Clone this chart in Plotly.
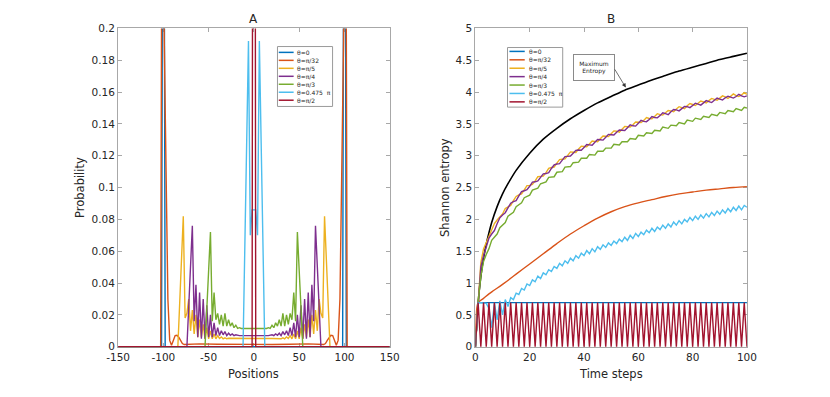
import plotly.graph_objects as go

FONT = 'DejaVu Sans'
TXT = '#262626'
AXC = '#a8a8a8'
W, H = 830, 397

labels = ['θ=0', 'θ=π/32', 'θ=π/5', 'θ=π/4', 'θ=π/3', 'θ=0.475  π', 'θ=π/2']
colors = ['#0072BD', '#D95319', '#EDB120', '#7E2F8E', '#77AC30', '#4DBEEE', '#A2142F']

# ---- panel A: probability over positions after 100 steps ----
posA_0 = [-150, -102, -100, -98, 98, 100, 102, 150]
probA_0 = [0, 0, 0.5, 0, 0, 0.5, 0, 0]

posA_pi32 = [-150, -103, -101, -99, -97, -95, -93, -91, -89, -87, -85, -83, -81, -79, -77, -60, -40, -20, 0,
             20, 40, 60, 77, 79, 81, 83, 85, 87, 89, 91, 93, 95, 97, 99, 101, 103, 150]
probA_pi32 = [0, 0, 0.42, 0.192, 0.11, 0.03, 0.004, 0.001, 0.004, 0.007, 0.0072, 0.006, 0.004, 0.002, 0.0014, 0.0018, 0.0016, 0.0014, 0.0014,
              0.0014, 0.0016, 0.0018, 0.0014, 0.002, 0.004, 0.006, 0.0072, 0.007, 0.004, 0.001, 0.004, 0.03, 0.11, 0.192, 0.42, 0, 0]

posA_pi5 = [-150, -86, -84, -82, -80, -78, -76, -74, -72, -70, -68, -66, -64, -62, -60, -58, -56, -54, -52, -50,
            -48, -46, -44, -42, -40, -38, -36, -34, -32, -30, -28, -20, -10, 0,
            10, 20, 28, 30, 32, 34, 36, 38, 40, 42, 44, 46, 48, 50, 52, 54, 56, 58, 60, 62, 64, 66, 68, 70,
            72, 74, 76, 78, 80, 82, 84, 86, 150]
probA_pi5 = [0, 0, 0, 0.027, 0.055, 0.082, 0.018, 0.021, 0.03, 0.01, 0.023, 0.008, 0.02, 0.006, 0.017, 0.006, 0.014, 0.005, 0.012, 0.005,
             0.01, 0.005, 0.008, 0.005, 0.007, 0.0052, 0.0062, 0.005, 0.0056, 0.005, 0.0053, 0.0052, 0.0052, 0.0052,
             0.0052, 0.0052, 0.0053, 0.005, 0.0056, 0.005, 0.0062, 0.0052, 0.007, 0.005, 0.008, 0.005, 0.01, 0.005, 0.012, 0.005, 0.014, 0.006, 0.017, 0.006, 0.02, 0.008, 0.023, 0.01,
             0.03, 0.021, 0.018, 0.082, 0.055, 0.027, 0, 0, 0]

posA_pi4 = [-150, -76, -74, -72, -70, -68, -66, -64, -62, -60, -58, -56, -54, -52, -50, -48, -46, -44, -42, -40,
            -38, -36, -34, -32, -30, -28, -26, -24, -22, -20, -16, -10, 0,
            10, 16, 20, 22, 24, 26, 28, 30, 32, 34, 36, 38, 40, 42, 44, 46, 48, 50, 52, 54, 56, 58, 60, 62,
            64, 66, 68, 70, 72, 74, 76, 150]
probA_pi4 = [0, 0, 0, 0.025, 0.05, 0.076, 0.016, 0.039, 0.006, 0.034, 0.005, 0.03, 0.005, 0.026, 0.006, 0.02, 0.006, 0.015, 0.007, 0.012,
             0.007, 0.01, 0.0075, 0.0095, 0.007, 0.0085, 0.0072, 0.008, 0.007, 0.0075, 0.007, 0.007, 0.007,
             0.007, 0.007, 0.0075, 0.007, 0.008, 0.0072, 0.0085, 0.007, 0.0095, 0.0075, 0.01, 0.007, 0.012, 0.007, 0.015, 0.006, 0.02, 0.006, 0.026, 0.005, 0.03, 0.005, 0.034, 0.006,
             0.039, 0.016, 0.076, 0.05, 0.025, 0, 0, 0]

posA_pi3 = [-150, -54, -52, -50, -48, -46, -44, -42, -40, -38, -36, -34, -32, -30, -28, -26, -24, -22, -20, -18, -16, -14, 0,
            14, 16, 18, 20, 22, 24, 26, 28, 30, 32, 34, 36, 38, 40, 42, 44, 46, 48, 50, 52, 54, 150]
probA_pi3 = [0, 0, 0.024, 0.048, 0.072, 0.016, 0.034, 0.017, 0.021, 0.014, 0.02, 0.013, 0.021, 0.013, 0.017, 0.013, 0.015, 0.012, 0.0135, 0.0115, 0.012, 0.0115, 0.0115,
             0.0115, 0.012, 0.0115, 0.0135, 0.012, 0.015, 0.013, 0.017, 0.013, 0.021, 0.013, 0.02, 0.014, 0.021, 0.017, 0.034, 0.016, 0.072, 0.048, 0.024, 0, 0]

posA_0475 = [-150, -12, -10, -8, -6, -4, -2, 0, 2, 4, 6, 8, 10, 12, 150]
probA_0475 = [0, 0, 0.064, 0.128, 0.192, 0.07, 0.086, 0.086, 0.086, 0.07, 0.192, 0.128, 0.064, 0, 0]

posA_pi2 = [-150, -2, 0, 2, 150]
probA_pi2 = [0, 0, 1, 0, 0]

# ---- panel B: Shannon entropy over time steps ----
steps = list(range(101))

ent_0_t = [0, 1, 100]
ent_0 = [0, 0.693, 0.693]

ent_pi32_t = [0, 1, 2, 3, 5, 7, 10, 15, 20, 25, 30, 35, 40, 45, 50, 55, 60, 65, 70, 75, 80, 85, 90, 95, 100]
ent_pi32 = [0, 0.693, 0.73, 0.76, 0.83, 0.89, 0.98, 1.14, 1.3, 1.46, 1.62, 1.77, 1.9, 2.02, 2.12, 2.2, 2.26, 2.31,
            2.36, 2.4, 2.43, 2.46, 2.48, 2.5, 2.515]

ent_pi5 = [0, 0.69, 1.32, 1.535, 1.64, 1.715, 1.83, 1.935, 1.99, 2.035,
           2.085, 2.17, 2.195, 2.22, 2.295, 2.36, 2.385, 2.40, 2.465, 2.53,
           2.535, 2.55, 2.605, 2.67, 2.675, 2.68, 2.735, 2.80, 2.815, 2.82,
           2.885, 2.94, 2.945, 2.95, 3.005, 3.06, 3.055, 3.05, 3.105, 3.15,
           3.145, 3.14, 3.185, 3.23, 3.225, 3.22, 3.265, 3.31, 3.305, 3.30,
           3.345, 3.39, 3.385, 3.37, 3.415, 3.46, 3.455, 3.45, 3.485, 3.53,
           3.525, 3.52, 3.555, 3.60, 3.585, 3.58, 3.615, 3.66, 3.645, 3.64,
           3.675, 3.71, 3.705, 3.69, 3.735, 3.77, 3.755, 3.74, 3.785, 3.82,
           3.805, 3.79, 3.825, 3.86, 3.845, 3.83, 3.865, 3.90, 3.885, 3.87,
           3.905, 3.94, 3.925, 3.90, 3.935, 3.97, 3.945, 3.93, 3.955, 3.99,
           3.965]

ent_pi4 = [0, 0.69, 1.25, 1.425, 1.58, 1.705, 1.77, 1.825, 1.93, 2.025,
           2.07, 2.105, 2.18, 2.255, 2.28, 2.295, 2.37, 2.435, 2.45, 2.465,
           2.52, 2.585, 2.59, 2.605, 2.66, 2.715, 2.72, 2.735, 2.80, 2.855,
           2.87, 2.875, 2.93, 2.985, 2.99, 2.995, 3.04, 3.085, 3.09, 3.085,
           3.13, 3.175, 3.17, 3.165, 3.21, 3.255, 3.25, 3.245, 3.29, 3.335,
           3.33, 3.325, 3.37, 3.405, 3.40, 3.395, 3.44, 3.485, 3.47, 3.465,
           3.51, 3.555, 3.54, 3.535, 3.57, 3.615, 3.60, 3.595, 3.63, 3.675,
           3.66, 3.645, 3.69, 3.725, 3.72, 3.705, 3.74, 3.775, 3.77, 3.755,
           3.79, 3.825, 3.81, 3.795, 3.83, 3.865, 3.85, 3.835, 3.87, 3.905,
           3.89, 3.875, 3.91, 3.935, 3.92, 3.905, 3.93, 3.965, 3.94, 3.925,
           3.94]

ent_pi3 = [0, 0.69, 1.10, 1.34, 1.45, 1.54, 1.67, 1.72, 1.77, 1.87,
           1.91, 1.95, 2.05, 2.08, 2.11, 2.20, 2.23, 2.26, 2.34, 2.36,
           2.38, 2.46, 2.47, 2.49, 2.56, 2.58, 2.59, 2.66, 2.67, 2.67,
           2.74, 2.75, 2.75, 2.82, 2.82, 2.83, 2.89, 2.89, 2.90, 2.96,
           2.96, 2.96, 3.02, 3.01, 3.01, 3.07, 3.07, 3.07, 3.12, 3.12,
           3.12, 3.18, 3.17, 3.17, 3.22, 3.22, 3.22, 3.27, 3.27, 3.26,
           3.32, 3.31, 3.31, 3.36, 3.36, 3.35, 3.40, 3.40, 3.39, 3.45,
           3.44, 3.43, 3.48, 3.48, 3.47, 3.52, 3.51, 3.50, 3.56, 3.55,
           3.54, 3.59, 3.58, 3.57, 3.62, 3.61, 3.60, 3.65, 3.64, 3.63,
           3.68, 3.67, 3.66, 3.71, 3.70, 3.69, 3.74, 3.73, 3.71, 3.76,
           3.75]

ent_0475 = [0, 0.693, 0.69, 0.69, 0.68, 0.6, 0.3, 0.69, 0.42, 0.72,
            0.5, 0.74, 0.63, 0.77, 0.74, 0.84, 0.82, 0.915, 0.89, 0.985,
            0.96, 1.05, 1.02, 1.11, 1.07, 1.16, 1.13, 1.21, 1.18, 1.26,
            1.23, 1.31, 1.27, 1.35, 1.31, 1.39, 1.35, 1.43, 1.39, 1.47,
            1.43, 1.51, 1.46, 1.54, 1.49, 1.57, 1.53, 1.60, 1.56, 1.63,
            1.59, 1.66, 1.62, 1.69, 1.65, 1.72, 1.67, 1.75, 1.70, 1.78,
            1.73, 1.80, 1.76, 1.83, 1.79, 1.86, 1.81, 1.88, 1.84, 1.91,
            1.86, 1.93, 1.88, 1.96, 1.91, 1.98, 1.93, 2.00, 1.96, 2.03,
            1.98, 2.05, 2.00, 2.07, 2.02, 2.09, 2.04, 2.11, 2.06, 2.13,
            2.08, 2.15, 2.10, 2.17, 2.12, 2.19, 2.14, 2.21, 2.15, 2.22,
            2.19]

ent_pi2 = [0, 0.693, 0, 0.693, 0, 0.693, 0, 0.693, 0, 0.693,
           0, 0.693, 0, 0.693, 0, 0.693, 0, 0.693, 0, 0.693,
           0, 0.693, 0, 0.693, 0, 0.693, 0, 0.693, 0, 0.693,
           0, 0.693, 0, 0.693, 0, 0.693, 0, 0.693, 0, 0.693,
           0, 0.693, 0, 0.693, 0, 0.693, 0, 0.693, 0, 0.693,
           0, 0.693, 0, 0.693, 0, 0.693, 0, 0.693, 0, 0.693,
           0, 0.693, 0, 0.693, 0, 0.693, 0, 0.693, 0, 0.693,
           0, 0.693, 0, 0.693, 0, 0.693, 0, 0.693, 0, 0.693,
           0, 0.693, 0, 0.693, 0, 0.693, 0, 0.693, 0, 0.693,
           0, 0.693, 0, 0.693, 0, 0.693, 0, 0.693, 0, 0.693,
           0]

maxent_t = [0, 1, 2, 3, 4, 5, 6, 8, 10, 12, 15, 20, 25, 30, 35, 40, 45, 50, 55, 60, 65, 70, 75, 80, 85, 90, 95, 100]
maxent = [0, 0.69, 1.10, 1.39, 1.61, 1.79, 1.95, 2.20, 2.40, 2.56, 2.77, 3.04, 3.26, 3.43, 3.58, 3.71, 3.83, 3.93,
          4.03, 4.11, 4.19, 4.26, 4.33, 4.39, 4.45, 4.51, 4.56, 4.61]

xticksA = [-150, -100, -50, 0, 50, 100, 150]


def px(x, y):
    # pixel position -> paper coordinates (figure has no margins)
    return x / W, 1 - y / H


fig = go.Figure()

seriesA = [(posA_0, probA_0), (posA_pi32, probA_pi32), (posA_pi5, probA_pi5), (posA_pi4, probA_pi4),
           (posA_pi3, probA_pi3), (posA_0475, probA_0475), (posA_pi2, probA_pi2)]
for (xs, ys), name, c in zip(seriesA, labels, colors):
    fig.add_trace(go.Scatter(x=xs, y=ys, mode='lines', name=name, showlegend=False,
                             line=dict(color=c, width=1.4), xaxis='x', yaxis='y'))

fig.add_trace(go.Scatter(x=maxent_t, y=maxent, mode='lines', showlegend=False,
                         line=dict(color='black', width=1.6, shape='spline', smoothing=0.6),
                         xaxis='x2', yaxis='y2'))
seriesB = [(ent_0_t, ent_0), (ent_pi32_t, ent_pi32), (steps, ent_pi5), (steps, ent_pi4),
           (steps, ent_pi3), (steps, ent_0475), (steps, ent_pi2)]
for (xs, ys), name, c in zip(seriesB, labels, colors):
    # the smooth pi/32 curve is given at sparse steps, so draw it as a spline
    shape = 'spline' if xs is ent_pi32_t else 'linear'
    fig.add_trace(go.Scatter(x=xs, y=ys, mode='lines', name=name, showlegend=False,
                             line=dict(color=c, width=1.4, shape=shape), xaxis='x2', yaxis='y2'))

axis_style = dict(showline=True, linecolor=AXC, linewidth=1, mirror='ticks',
                  ticks='inside', ticklen=4, tickcolor=AXC, tickwidth=1,
                  showgrid=False, zeroline=False, layer='below traces',
                  tickfont=dict(family=FONT, size=10.5, color=TXT))

fig.update_layout(
    width=W, height=H, margin=dict(l=0, r=0, t=0, b=0),
    paper_bgcolor='white', plot_bgcolor='white', showlegend=False,
    xaxis=dict(axis_style, domain=[0.1313, 0.4675], range=[-150, 150], anchor='y',
               tickmode='array', tickvals=xticksA, ticktext=[str(v) for v in xticksA]),
    yaxis=dict(axis_style, domain=[0.116, 0.942], range=[-0.0003, 0.2], anchor='x',
               tickmode='linear', tick0=0, dtick=0.02),
    xaxis2=dict(axis_style, domain=[0.5735, 0.9096], range=[0, 100], anchor='y2',
                tickmode='linear', tick0=0, dtick=20),
    yaxis2=dict(axis_style, domain=[0.116, 0.942], range=[-0.008, 5], anchor='x2',
                tickmode='linear', tick0=0, dtick=0.5),
)

ann = []
shapes = []
# panel titles and axis labels
for text, (x, y), angle, size in [('A', px(248, 13), 0, 12), ('B', px(615, 13), 0, 12),
                                  ('Positions', px(248, 378), 0, 11.5), ('Probability', px(70, 187), -90, 11.5),
                                  ('Time steps', px(615, 378), 0, 11.5), ('Shannon entropy', px(445, 187), -90, 11.5)]:
    ann.append(dict(text=text, x=x, y=y, xref='paper', yref='paper', showarrow=False,
                    textangle=angle, xanchor='center', yanchor='middle',
                    font=dict(family=FONT, size=size, color=TXT)))

# hand-made legends (plotly rows are too tall for this size)
for (bx0, by0, bx1, by1, lx0, lx1, tx, ry0, dy) in [(272.7, 41.7, 329.3, 103.3, 274, 289.3, 290.7, 47.7, 8.2),
                                                    (509, 42.7, 565.7, 104, 511, 526.7, 529.3, 46.7, 8.65)]:
    x0, y1 = px(bx0, by0)
    x1, y0 = px(bx1, by1)
    shapes.append(dict(type='rect', xref='paper', yref='paper', x0=x0, y0=y0, x1=x1, y1=y1,
                       line=dict(color='#9a9a9a', width=1), fillcolor='white', layer='above'))
    for i, (name, c) in enumerate(zip(labels, colors)):
        ry = ry0 + dy * i
        a0, yy = px(lx0, ry)
        a1, _ = px(lx1, ry)
        shapes.append(dict(type='line', xref='paper', yref='paper', x0=a0, x1=a1, y0=yy, y1=yy,
                           line=dict(color=c, width=1.5), layer='above'))
        t0, _ = px(tx, ry)
        ann.append(dict(text=name, x=t0, y=yy, xref='paper', yref='paper', showarrow=False,
                        xanchor='left', yanchor='middle', font=dict(family=FONT, size=6, color=TXT)))

# "Maximum Entropy" call-out
bxc, byc = px(619, 49.5)
ann.append(dict(text='Maximum<br>Entropy', x=bxc, y=byc, xref='paper', yref='paper', showarrow=False,
                font=dict(family=FONT, size=6, color=TXT), bgcolor='white',
                bordercolor='#8a8a8a', borderwidth=1, borderpad=1, width=38, height=23))
ann.append(dict(text='', x=55.4, y=4.07, xref='x2', yref='y2', ax=51, ay=4.38, axref='x2', ayref='y2',
                showarrow=True, arrowhead=2, arrowsize=1.2, arrowwidth=0.7, arrowcolor='#333333'))

fig.update_layout(annotations=ann, shapes=shapes)

# page body has a default 8px margin; drop it so the figure sits at the window origin
fig.write_html("out.html", config={'displayModeBar': False},
               post_script="document.body.style.margin='0';")
